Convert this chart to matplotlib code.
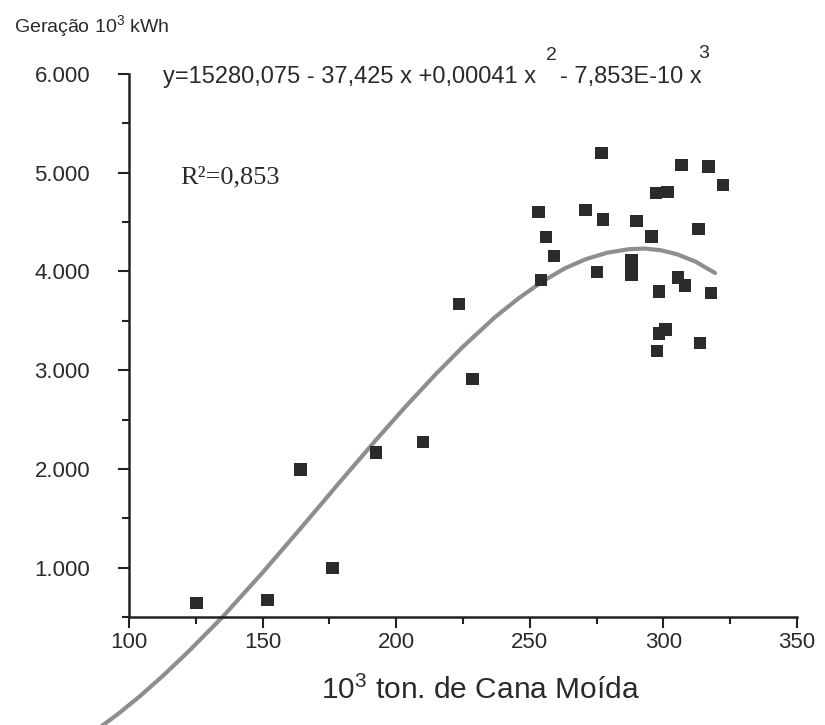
import matplotlib
matplotlib.use("Agg")
import matplotlib.pyplot as plt
from matplotlib.ticker import MultipleLocator, FuncFormatter

plt.rcParams['mathtext.fontset'] = 'custom'
plt.rcParams['mathtext.rm'] = 'Liberation Sans'
plt.rcParams['mathtext.it'] = 'Liberation Sans'
plt.rcParams['mathtext.bf'] = 'Liberation Sans'

# Observed data (10^3 ton cane crushed vs generation 10^3 kWh)
cane = [125.3, 151.8, 164.2, 176.1, 192.5, 210.0, 223.5, 228.5,
        253.2, 254.1, 256.1, 259.1, 270.9, 275.1, 276.9, 277.5,
        288.1, 288.1, 288.1, 290.0, 295.5, 297.2, 297.7, 298.4,
        298.4, 300.8, 301.6, 305.5, 306.8, 308.1, 313.1, 313.7,
        316.9, 317.8, 322.3]
geracao = [640, 675, 1996, 999, 2168, 2274, 3670, 2910,
           4605, 3913, 4349, 4157, 4625, 3997, 5197, 4527,
           4116, 4032, 3964, 4511, 4352, 4797, 3197, 3795,
           3373, 3414, 4807, 3937, 5078, 3856, 4430, 3278,
           5061, 3779, 4876]

# Fitted curve
curve_x = [88, 96, 104, 113, 122.8, 135, 150, 165, 179, 192, 204, 215,
           225, 237, 246, 255, 263, 271, 279, 287, 293, 299, 305, 312, 319.3]
curve_y = [-640, -480, -304, -88, 165, 500, 950, 1422, 1870, 2280, 2646,
           2965, 3238, 3538, 3732, 3903, 4030, 4125, 4190, 4225, 4232,
           4215, 4175, 4100, 3985]

x_ticks = [100, 150, 200, 250, 300, 350]
y_ticks = [1000, 2000, 3000, 4000, 5000, 6000]

W, H = 825, 725
fig = plt.figure(figsize=(W / 100, H / 100), dpi=100)
ax = fig.add_axes([129 / W, (H - 617) / H, (797 - 129) / W, (617 - 74) / H])

txt = '#2a2a2a'
ax.plot(curve_x, curve_y, color='#8e8e8e', lw=3.0, clip_on=False,
        solid_capstyle='round', solid_joinstyle='round', zorder=2)
ax.scatter(cane, geracao, marker='s', s=80, color='#2b2b2b',
           edgecolors='none', zorder=3)

ax.set_xlim(100, 350)
ax.set_ylim(500, 6000)
ax.set_xticks(x_ticks)
ax.set_yticks(y_ticks)
ax.xaxis.set_minor_locator(MultipleLocator(25))
ax.yaxis.set_minor_locator(MultipleLocator(500))
ax.yaxis.set_major_formatter(FuncFormatter(lambda v, p: f"{v:,.0f}".replace(',', '.')))

for s in ['top', 'right']:
    ax.spines[s].set_visible(False)
for s in ['left', 'bottom']:
    ax.spines[s].set_linewidth(1.8)
    ax.spines[s].set_color('#222222')

ax.tick_params(axis='both', which='major', length=8, width=1.5, color='#222222',
               labelsize=16, labelcolor=txt)
ax.tick_params(axis='both', which='minor', length=5, width=1.5, color='#222222')
ax.tick_params(axis='y', which='major', pad=20)
ax.tick_params(axis='x', which='major', pad=3)
for lab in ax.get_xticklabels() + ax.get_yticklabels():
    lab.set_family('Liberation Sans')

def fx(px):
    return px / W

def fy(py):
    return 1 - py / H

sans = 'Liberation Sans'
fig.text(fx(14), fy(26), 'Geração 10$^{3}$ kWh', fontsize=14, family=sans,
         color=txt, ha='left', va='center')

fig.text(fx(163), fy(77), 'y=15280,075 - 37,425 x +0,00041 x', fontsize=17,
         family=sans, color=txt, ha='left', va='center')
fig.text(fx(551), fy(56), '2', fontsize=14, family=sans, color=txt,
         ha='center', va='center')
fig.text(fx(560), fy(77), '- 7,853E-10 x', fontsize=17, family=sans,
         color=txt, ha='left', va='center')
fig.text(fx(704), fy(54), '3', fontsize=14, family=sans, color=txt,
         ha='center', va='center')

fig.text(fx(180), fy(177), 'R²=0,853', fontsize=19, family='Liberation Serif',
         color=txt, ha='left', va='center')

fig.text(fx(480), fy(690), '10$^{3}$ ton. de Cana Moída', fontsize=21.5,
         family=sans, color=txt, ha='center', va='center')

fig.savefig('out.png', dpi=100)
